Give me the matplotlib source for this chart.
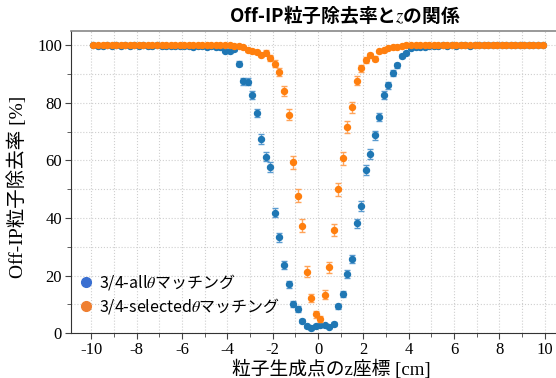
import numpy as np
import matplotlib
matplotlib.use("Agg")
import matplotlib.pyplot as plt
from matplotlib.lines import Line2D
from matplotlib.ticker import MultipleLocator

# bin centres of the z distribution (0.2 cm bins from -10 to 10 cm)
z_edges = np.linspace(-10, 10, 101)
z_centers = (z_edges[:-1] + z_edges[1:]) / 2

# 3/4-all theta matching : removal rate [%]
rate_all = [
    99.9, 99.8, 99.6, 99.9, 99.8, 99.9, 99.8, 99.9, 99.7, 99.9,
    99.8, 99.9, 99.6, 99.8, 99.9, 99.7, 99.8, 99.6, 99.8, 99.7,
    99.8, 99.6, 99.3, 99.7, 99.6, 99.5, 99.6, 99.2, 99.4, 98.0,
    97.8, 98.5, 93.5, 87.4, 87.3, 82.7, 76.5, 67.4, 61.3, 57.8,
    41.9, 33.3, 23.6, 17.0, 10.2, 8.4, 4.3, 2.4, 1.7, 2.7,
    2.8, 2.8, 2.3, 3.3, 9.3, 13.6, 20.6, 25.8, 38.1, 44.2,
    56.7, 62.2, 68.7, 75.0, 82.7, 86.0, 90.3, 93.0, 96.2, 97.4,
    99.0, 99.4, 99.5, 99.5, 99.7, 99.8, 99.7, 99.9, 99.8, 99.9,
    99.8, 99.9, 99.9, 99.8, 99.9, 99.9, 100.0, 99.9, 99.9, 100.0,
    99.9, 99.9, 100.0, 99.9, 100.0, 100.0, 99.9, 100.0, 100.0, 100.0,
]
err_all = [
    0.11, 0.15, 0.22, 0.11, 0.15, 0.11, 0.15, 0.11, 0.19, 0.11,
    0.15, 0.11, 0.22, 0.15, 0.11, 0.19, 0.15, 0.22, 0.15, 0.19,
    0.15, 0.22, 0.29, 0.19, 0.22, 0.24, 0.22, 0.31, 0.26, 0.48,
    0.50, 0.42, 0.85, 1.14, 1.14, 1.30, 1.45, 1.61, 1.67, 1.69,
    1.69, 1.62, 1.46, 1.29, 1.04, 0.95, 0.70, 0.52, 0.44, 0.56,
    0.57, 0.57, 0.51, 0.61, 1.00, 1.18, 1.39, 1.50, 1.67, 1.70,
    1.70, 1.66, 1.59, 1.49, 1.30, 1.19, 1.02, 0.88, 0.66, 0.55,
    0.34, 0.26, 0.24, 0.24, 0.19, 0.15, 0.19, 0.11, 0.15, 0.11,
    0.15, 0.11, 0.11, 0.15, 0.11, 0.11, 0.00, 0.11, 0.11, 0.00,
    0.11, 0.11, 0.00, 0.11, 0.00, 0.00, 0.11, 0.00, 0.00, 0.00,
]

# 3/4-selected theta matching : removal rate [%]
rate_sel = [
    100.0, 100.0, 100.0, 100.0, 100.0, 100.0, 100.0, 100.0, 100.0, 100.0,
    100.0, 100.0, 100.0, 100.0, 100.0, 100.0, 100.0, 100.0, 100.0, 100.0,
    100.0, 100.0, 99.9, 100.0, 100.0, 100.0, 100.0, 100.0, 100.0, 100.0,
    100.0, 99.8, 99.6, 99.2, 98.3, 98.0, 97.7, 96.6, 97.4, 95.5,
    93.6, 90.7, 84.1, 75.9, 59.4, 47.8, 37.4, 21.4, 12.3, 6.6,
    4.9, 13.4, 22.9, 35.8, 49.9, 60.7, 71.6, 78.4, 87.7, 92.0,
    94.8, 96.4, 95.3, 97.8, 98.2, 99.0, 99.3, 99.5, 99.8, 100.0,
    100.0, 100.0, 100.0, 100.0, 100.0, 100.0, 100.0, 100.0, 100.0, 100.0,
    100.0, 100.0, 100.0, 100.0, 100.0, 100.0, 100.0, 100.0, 100.0, 100.0,
    100.0, 100.0, 100.0, 100.0, 100.0, 100.0, 100.0, 100.0, 100.0, 100.0,
]
err_sel = [
    0.0, 0.0, 0.0, 0.0, 0.0, 0.0, 0.0, 0.0, 0.0, 0.0,
    0.0, 0.0, 0.0, 0.0, 0.0, 0.0, 0.0, 0.0, 0.0, 0.0,
    0.0, 0.0, 0.14, 0.0, 0.0, 0.0, 0.0, 0.0, 0.0, 0.0,
    0.0, 0.20, 0.29, 0.41, 0.59, 0.64, 0.68, 0.83, 0.73, 0.95,
    1.12, 1.33, 1.67, 1.95, 2.24, 2.28, 2.21, 1.87, 1.50, 1.13,
    0.99, 1.56, 1.92, 2.19, 2.28, 2.23, 2.06, 1.88, 1.50, 1.24,
    1.01, 0.85, 0.97, 0.67, 0.61, 0.45, 0.38, 0.32, 0.20, 0.0,
    0.0, 0.0, 0.0, 0.0, 0.0, 0.0, 0.0, 0.0, 0.0, 0.0,
    0.0, 0.0, 0.0, 0.0, 0.0, 0.0, 0.0, 0.0, 0.0, 0.0,
    0.0, 0.0, 0.0, 0.0, 0.0, 0.0, 0.0, 0.0, 0.0, 0.0,
]

labels = [r"3/4-all$\theta$マッチング", r"3/4-selected$\theta$マッチング"]

plt.rcParams["mathtext.fontset"] = "stix"
plt.rcParams["axes.unicode_minus"] = False
serif_jp = ["Liberation Serif", "Noto Sans CJK JP"]

fig = plt.figure(figsize=(5.56, 3.78), dpi=100)
ax = fig.add_axes([0.1277, 0.1183, 0.8885, 0.8005])

ax.errorbar(z_centers, rate_all, yerr=err_all, fmt="o", color="#1f77b4",
            ms=4.3, elinewidth=1.0, capsize=2, capthick=1.0, ecolor="#5a9bd0",
            zorder=3)
ax.errorbar(z_centers, rate_sel, yerr=err_sel, fmt="o", color="#ff7f0e",
            ms=4.3, elinewidth=1.0, capsize=2, capthick=1.0, ecolor="#ffa45a",
            zorder=4)

ax.set_xlim(-10.89, 10.89)
ax.set_ylim(0, 105)
ax.xaxis.set_major_locator(MultipleLocator(2))
ax.xaxis.set_minor_locator(MultipleLocator(1))
ax.yaxis.set_major_locator(MultipleLocator(20))
ax.yaxis.set_minor_locator(MultipleLocator(10))
ax.grid(which="both", linestyle=":", color="#cfcfcf", linewidth=0.8)
ax.set_axisbelow(True)
ax.tick_params(which="both", direction="out", color="#444444")
ax.tick_params(which="major", length=4, labelsize=12, pad=2.5)
ax.tick_params(which="minor", length=3)
for lab in ax.get_xticklabels() + ax.get_yticklabels():
    lab.set_family(serif_jp)
for side in ["left", "bottom"]:
    ax.spines[side].set_color("#333333")
for side in ["top", "right"]:
    ax.spines[side].set_color("#888888")
    ax.spines[side].set_linewidth(1.2)

fig.text(331 / 556, 1 - 369 / 378, "粒子生成点のz座標 [cm]", ha="center", va="center",
         fontsize=13.5, family=serif_jp)
fig.text(17 / 556, 1 - 187 / 378, "Off-IP粒子除去率 [%]", ha="center", va="center",
         rotation=90, fontsize=14, family=serif_jp)
fig.text(345 / 556, 1 - 15 / 378, r"Off-IP粒子除去率と$z$の関係", ha="center", va="center",
         fontsize=13.5, fontweight="bold", family=["Noto Sans CJK JP"])

handles = [Line2D([], [], ls="", marker="o", ms=7, color="#3a6fd1"),
           Line2D([], [], ls="", marker="o", ms=7, color="#ef7f31")]
ax.legend(handles, labels, loc="lower left", bbox_to_anchor=(-0.012, 0.01),
          frameon=False, handlelength=0.8, handletextpad=0.4, labelspacing=0.25,
          prop={"family": "Noto Sans CJK JP", "size": 11.5})

fig.savefig("out.png", dpi=100)
